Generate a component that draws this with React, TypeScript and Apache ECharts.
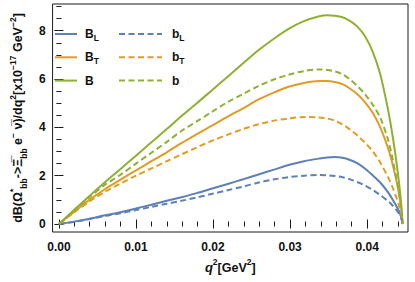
import React, { useEffect, useRef } from 'react';
import * as echarts from 'echarts';

// q^2 sample points [GeV^2]
const q2 = [0, 0.002, 0.004, 0.006, 0.008, 0.010, 0.012, 0.014, 0.0159, 0.0179, 0.0199, 0.0219, 0.0239, 0.0258, 0.0278, 0.0298, 0.0318, 0.0338, 0.0348, 0.0358, 0.0368, 0.0377, 0.0387, 0.0397, 0.0407, 0.0417, 0.0427, 0.0432, 0.0437, 0.0441, 0.0444, 0.0446];

// dB/dq^2 values [x10^-17 GeV^-2]
const B_L = [0, 0.1, 0.22, 0.36, 0.49, 0.64, 0.8, 0.96, 1.11, 1.28, 1.47, 1.66, 1.85, 2.04, 2.24, 2.44, 2.6, 2.71, 2.75, 2.77, 2.74, 2.66, 2.52, 2.3, 2.02, 1.72, 1.32, 1.07, 0.8, 0.55, 0.3, 0];
const B_T = [0, 0.51, 1.01, 1.45, 1.84, 2.22, 2.6, 2.97, 3.35, 3.72, 4.08, 4.45, 4.79, 5.14, 5.43, 5.68, 5.84, 5.92, 5.92, 5.88, 5.79, 5.62, 5.38, 5.05, 4.62, 4.0, 3.15, 2.6, 1.94, 1.3, 0.7, 0];
const B_tot = [0, 0.59, 1.17, 1.74, 2.28, 2.83, 3.38, 3.93, 4.47, 5.0, 5.55, 6.1, 6.65, 7.17, 7.65, 8.08, 8.40, 8.60, 8.64, 8.62, 8.56, 8.42, 8.18, 7.78, 7.15, 6.2, 4.75, 3.85, 2.8, 1.8, 0.9, 0];
const b_L = [0, 0.09, 0.21, 0.33, 0.45, 0.58, 0.71, 0.84, 0.96, 1.1, 1.25, 1.40, 1.55, 1.71, 1.84, 1.94, 2.0, 2.03, 2.02, 1.99, 1.94, 1.86, 1.74, 1.6, 1.42, 1.2, 0.95, 0.8, 0.62, 0.45, 0.28, 0];
const b_T = [0, 0.49, 0.94, 1.34, 1.68, 2.0, 2.3, 2.6, 2.88, 3.17, 3.45, 3.70, 3.93, 4.12, 4.27, 4.37, 4.43, 4.41, 4.37, 4.28, 4.12, 3.93, 3.67, 3.37, 3.02, 2.55, 1.94, 1.6, 1.18, 0.8, 0.45, 0];
const b_tot = [0, 0.57, 1.12, 1.63, 2.04, 2.5, 2.95, 3.4, 3.85, 4.25, 4.65, 5.05, 5.38, 5.70, 5.97, 6.18, 6.33, 6.40, 6.38, 6.32, 6.2, 6.0, 5.72, 5.38, 4.95, 4.4, 3.5, 2.85, 2.05, 1.35, 0.7, 0];

// ticks
const xMajor = [0, 0.01, 0.02, 0.03, 0.04];
const xTickLabels = ['0.00', '0.01', '0.02', '0.03', '0.04'];
const yMajor = [0, 2, 4, 6, 8];
const yTickLabels = ['0', '2', '4', '6', '8'];
const X_MINOR_STEP = 0.002;
const Y_MINOR_STEP = 0.5;

const X_MIN = -0.00082;
const X_MAX = 0.0453;
const Y_MIN = -0.33;
const Y_MAX = 9.107;

const BLUE = '#5E81B5';
const ORANGE = '#E19C24';
const GREEN = '#8FB032';
const FRAME = '#1a1a1a';
const FONT = '"Liberation Sans", Arial, sans-serif';

function minorValues(majors: number[], step: number, min: number, max: number): number[] {
  const out: number[] = [];
  const k0 = Math.ceil(min / step - 1e-9);
  const k1 = Math.floor(max / step + 1e-9);
  for (let k = k0; k <= k1; k++) {
    const v = +(k * step).toFixed(6);
    if (!majors.some((m) => Math.abs(m - v) < step * 1e-3)) out.push(v);
  }
  return out;
}

function labelFor(v: number, majors: number[], labels: string[]): string {
  const i = majors.findIndex((m) => Math.abs(m - v) < 1e-9);
  return i >= 0 ? labels[i] : '';
}

export default function App() {
  const ref = useRef<HTMLDivElement>(null);

  useEffect(() => {
    if (!ref.current) return;
    const chart = echarts.init(ref.current, null, { renderer: 'svg' });

    const xMinor = minorValues(xMajor, X_MINOR_STEP, X_MIN, X_MAX);
    const yMinor = minorValues(yMajor, Y_MINOR_STEP, Y_MIN, Y_MAX);

    const tickLine = { color: FRAME, width: 1 };
    const labelStyle = { color: '#111', fontFamily: FONT, fontWeight: 'bold' as const, fontSize: 12 };

    const xAxisOf = (position: string, values: number[], len: number, withLabel: boolean, extra: any = {}) => ({
      type: 'value',
      position,
      min: X_MIN,
      max: X_MAX,
      axisLine: { show: false },
      splitLine: { show: false },
      axisTick: { show: true, inside: true, length: len, customValues: values, lineStyle: tickLine },
      axisLabel: withLabel
        ? { show: true, customValues: values, margin: 9, formatter: (v: number) => labelFor(v, xMajor, xTickLabels), ...labelStyle }
        : { show: false },
      ...extra,
    });
    const yAxisOf = (position: string, values: number[], len: number, withLabel: boolean, extra: any = {}) => ({
      type: 'value',
      position,
      min: Y_MIN,
      max: Y_MAX,
      axisLine: { show: false },
      splitLine: { show: false },
      axisTick: { show: true, inside: true, length: len, customValues: values, lineStyle: tickLine },
      axisLabel: withLabel
        ? { show: true, customValues: values, margin: 7, formatter: (v: number) => labelFor(v, yMajor, yTickLabels), ...labelStyle }
        : { show: false },
      ...extra,
    });

    const nameRich = {
      t: { fontFamily: FONT, fontWeight: 'bold', fontSize: 12.5, color: '#111', lineHeight: 20, verticalAlign: 'middle' },
      i: { fontFamily: FONT, fontWeight: 'bold', fontStyle: 'italic', fontSize: 13, color: '#111', lineHeight: 20, verticalAlign: 'middle' },
      sup: { fontFamily: FONT, fontWeight: 'bold', fontSize: 8.5, color: '#111', lineHeight: 11, verticalAlign: 'top' },
      sub: { fontFamily: FONT, fontWeight: 'bold', fontSize: 8.5, color: '#111', lineHeight: 10, verticalAlign: 'bottom' },
    };

    const yName =
      '{t|dB(Ω}{sup|*}{sub|bb}{t|->}{t|Ξ\u0305}{sub|bb}{t| e}{sup|−}{t| ν\u0305)/dq}{sup|2}{t|[x10}{sup|−17}{t| GeV}{sup|−2}{t|]}';
    const xName = '{i|q}{sup|2}{t|[GeV}{sup|2}{t|]}';

    const mkSeries = (name: string, vals: number[], color: string, dashed: boolean) => ({
      name,
      type: 'line',
      xAxisIndex: 0,
      yAxisIndex: 0,
      data: q2.map((q, i) => [q, vals[i]]),
      showSymbol: false,
      symbol: 'none',
      smooth: 0.3,
      clip: true,
      lineStyle: { color, width: 2, type: dashed ? [6, 3.5] : 'solid' },
      itemStyle: { color },
    });

    const legendRich = {
      m: { fontFamily: FONT, fontWeight: 'bold', fontSize: 12, color: '#111', lineHeight: 16, verticalAlign: 'middle' },
      s: { fontFamily: FONT, fontWeight: 'bold', fontSize: 8.5, color: '#111', lineHeight: 9, verticalAlign: 'bottom' },
    };
    const legendFormatter = (name: string) => {
      const [main, sub] = name.split('_');
      return sub ? `{m|${main}}{s|${sub}}` : `{m|${main}}`;
    };
    const legendItemStyle = { opacity: 0, color: 'rgba(0,0,0,0)', borderColor: 'rgba(0,0,0,0)', borderWidth: 0 };

    chart.setOption({
      animation: false,
      backgroundColor: '#fff',
      grid: {
        left: 36,
        top: 4,
        width: 372,
        height: 228,
        show: true,
        borderColor: FRAME,
        borderWidth: 1,
        backgroundColor: 'transparent',
        containLabel: false,
      },
      xAxis: [
        xAxisOf('bottom', xMajor, 4.5, true, {
          name: xName,
          nameLocation: 'middle',
          nameGap: 23,
          nameTextStyle: { rich: nameRich },
        }),
        xAxisOf('bottom', xMinor, 2.5, false),
        xAxisOf('top', xMajor, 4.5, false),
        xAxisOf('top', xMinor, 2.5, false),
      ],
      yAxis: [
        yAxisOf('left', yMajor, 4.5, true, {
          name: yName,
          nameLocation: 'middle',
          nameGap: 16,
          nameRotate: 90,
          nameTextStyle: { rich: nameRich },
        }),
        yAxisOf('left', yMinor, 2.5, false),
        yAxisOf('right', yMajor, 4.5, false),
        yAxisOf('right', yMinor, 2.5, false),
      ],
      legend: [
        {
          data: ['B_L', 'B_T', 'B'],
          orient: 'vertical',
          left: 49,
          top: 23,
          itemWidth: 22,
          itemHeight: 14,
          itemGap: 9.3,
          formatter: legendFormatter,
          itemStyle: legendItemStyle,
          textStyle: { rich: legendRich, padding: [0, 0, 0, 3] },
          selectedMode: false,
        },
        {
          data: ['b_L', 'b_T', 'b'],
          orient: 'vertical',
          left: 113,
          top: 23,
          itemWidth: 43,
          itemHeight: 14,
          itemGap: 9.3,
          formatter: legendFormatter,
          itemStyle: legendItemStyle,
          textStyle: { rich: legendRich, padding: [0, 0, 0, 5] },
          selectedMode: false,
        },
      ],
      series: [
        mkSeries('B_L', B_L, BLUE, false),
        mkSeries('B_T', B_T, ORANGE, false),
        mkSeries('B', B_tot, GREEN, false),
        mkSeries('b_L', b_L, BLUE, true),
        mkSeries('b_T', b_T, ORANGE, true),
        mkSeries('b', b_tot, GREEN, true),
      ],
    });

    return () => chart.dispose();
  }, []);

  return (
    <div
      ref={ref}
      style={{ position: 'absolute', left: 0, top: 0, width: 415, height: 282, background: '#fff' }}
    />
  );
}
